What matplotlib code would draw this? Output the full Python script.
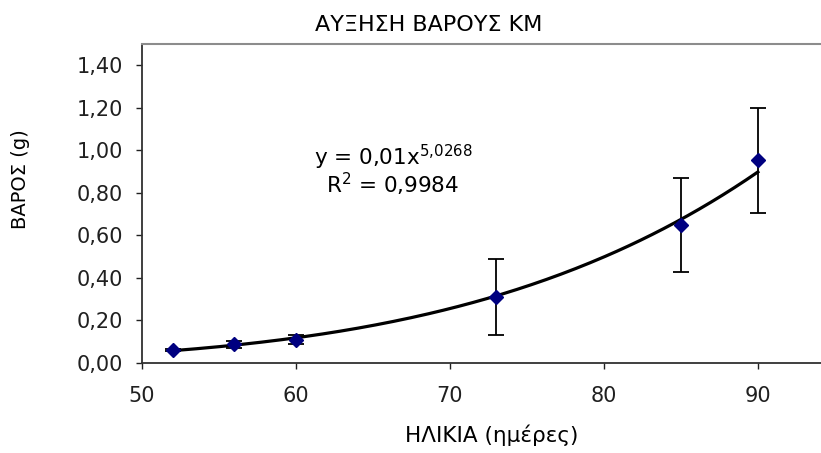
import numpy as np
import matplotlib
matplotlib.use("Agg")
import matplotlib.pyplot as plt

plt.rcParams['font.family'] = ['DejaVu Sans']
plt.rcParams['mathtext.default'] = 'regular'

# age (days) and weight (g) with error bars
age = np.array([52, 56, 60, 73, 85, 90])
weight = np.array([0.060, 0.087, 0.110, 0.311, 0.649, 0.953])
err = np.array([0.004, 0.015, 0.020, 0.180, 0.219, 0.246])

yticks = [0.0, 0.2, 0.4, 0.6, 0.8, 1.0, 1.2, 1.4]
xticks = [50, 60, 70, 80, 90]

# power trendline fitted on log data
b, ln_a = np.polyfit(np.log(age), np.log(weight), 1)
xfit = np.linspace(age.min(), age.max(), 200)
yfit = np.exp(ln_a) * xfit ** b

fig = plt.figure(figsize=(8.21, 4.53), dpi=100)
ax = fig.add_axes([142/821, 1 - 363/453, (821-142)/821, (363-44)/453])

ax.plot(xfit, yfit, color='black', lw=2.3, zorder=2)
ax.errorbar(age, weight, yerr=err, fmt='D', color='#000080', ms=7,
            ecolor='black', elinewidth=1.3, capsize=5.5, capthick=1.3, zorder=3)

ax.set_xlim(50, 94.1)
ax.set_ylim(0, 1.5)
ax.set_xticks(xticks)
ax.set_yticks(yticks)
ax.set_xticklabels([str(v) for v in xticks])
ax.set_yticklabels([f"{v:.2f}".replace('.', ',') for v in yticks])
ax.tick_params(direction='out', length=4.5, width=1, labelsize=15, colors='#202020')
ax.tick_params(axis='y', pad=9)
ax.tick_params(axis='x', pad=12)

ax.spines['right'].set_visible(False)
ax.spines['top'].set_color('#8c8c8c')
ax.spines['top'].set_linewidth(1.5)
ax.spines['left'].set_color('#303030')
ax.spines['bottom'].set_color('#303030')
ax.spines['left'].set_linewidth(1.3)
ax.spines['bottom'].set_linewidth(1.3)

ax.text(66.3, 0.93, r"y = 0,01x$^{5{,}0268}$", ha='center', va='baseline', fontsize=15.5)
ax.text(66.3, 0.80, r"R$^{2}$ = 0,9984", ha='center', va='baseline', fontsize=15.5)

fig.text(429/821, 1 - 25/453, "ΑΥΞΗΣΗ ΒΑΡΟΥΣ ΚΜ", ha='center', va='center', fontsize=16)
fig.text(492/821, 1 - 435/453, "ΗΛΙΚΙΑ (ημέρες)", ha='center', va='center', fontsize=15.5)
fig.text(21/821, 1 - 179/453, "ΒΑΡΟΣ (g)", ha='center', va='center', rotation=90, fontsize=14)

fig.savefig("out.png", dpi=100)
